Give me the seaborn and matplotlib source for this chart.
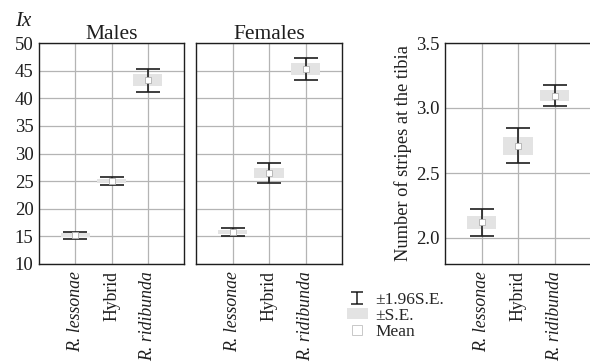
import numpy as np
import pandas as pd
import matplotlib
matplotlib.use("Agg")
import matplotlib.pyplot as plt
from matplotlib.lines import Line2D
from matplotlib.patches import Patch
from matplotlib.path import Path
import seaborn as sns

# ── Data ──────────────────────────────────────────────────
species = ["R. lessonae", "Hybrid", "R. ridibunda"]

males_mean = [15.2, 25.05, 43.25]
males_ci = [0.65, 0.75, 2.1]          # 1.96 * S.E.

females_mean = [15.8, 26.45, 45.3]
females_ci = [0.7, 1.75, 2.05]

tibia_mean = [2.12, 2.71, 3.095]
tibia_ci = [0.103, 0.135, 0.083]

# ── Style ─────────────────────────────────────────────────
sns.set_theme(style="whitegrid")
plt.rcParams["font.family"] = ["Liberation Serif", "DejaVu Serif"]

GRID = "#b4b4b4"
BOX = "#e3e3e3"
INK = "#1e1e1e"
TICK_FS = 13.5
XTICK_FS = 12.8

fig = plt.figure(figsize=(5.9, 3.64), dpi=100, facecolor="white")
bottom, height = 1 - 264 / 364, 221 / 364
axes = [
    fig.add_axes([39 / 590, bottom, 145 / 590, height]),
    fig.add_axes([196 / 590, bottom, 146 / 590, height]),
    fig.add_axes([445 / 590, bottom, 146 / 590, height]),
]


def draw_panel(ax, means, ci, ylim, yticks):
    df = pd.DataFrame({"species": species, "mean": means, "ci": ci})
    df["se"] = df["ci"] / 1.96
    pos = np.arange(len(df))
    ax.bar(pos, 2 * df["se"], bottom=df["mean"] - df["se"], width=0.8,
           color=BOX, linewidth=0, zorder=2)
    ax.errorbar(pos, df["mean"], yerr=df["ci"], fmt="none", ecolor=INK,
                elinewidth=1.2, capsize=8.3, capthick=1.2, zorder=3)
    sns.stripplot(data=df, x="species", y="mean", jitter=False, marker="s",
                  color="white", edgecolor="#b0b0b0", linewidth=0.6, size=4.2,
                  ax=ax, zorder=4)
    ax.set_xlim(-1, 3)
    ax.set_ylim(*ylim)
    ax.set_yticks(yticks)
    ax.set_xlabel("")
    ax.set_ylabel("")
    ax.set_axisbelow(True)
    ax.grid(True, color=GRID, linewidth=0.9)
    ax.tick_params(length=0, labelsize=TICK_FS, colors=INK)
    ax.tick_params(axis="x", pad=5)
    ax.tick_params(axis="y", pad=4)
    for s in ax.spines.values():
        s.set_color(INK)
        s.set_linewidth(1.0)
    ax.set_xticks(pos)
    ax.set_xticklabels(species, rotation=90, fontsize=XTICK_FS)
    for lab in ax.get_xticklabels():
        if lab.get_text().startswith("R."):
            lab.set_style("italic")


draw_panel(axes[0], males_mean, males_ci, (10, 50), range(10, 51, 5))
axes[0].set_title("Males", fontsize=15.5, pad=3, color=INK)

draw_panel(axes[1], females_mean, females_ci, (10, 50), range(10, 51, 5))
axes[1].set_yticklabels([])
axes[1].set_title("Females", fontsize=15.5, pad=3, color=INK)

draw_panel(axes[2], tibia_mean, tibia_ci, (1.8, 3.5), [2.0, 2.5, 3.0, 3.5])
axes[2].set_yticklabels(["2.0", "2.5", "3.0", "3.5"])
axes[2].set_ylabel("Number of stripes at the tibia", fontsize=13.2, color=INK,
                   labelpad=3)

fig.text(15 / 590, 1 - 22 / 364, "Ix", fontsize=15, style="italic",
         color=INK, va="center")

# legend: I-beam for 1.96 S.E., grey box for S.E., white square for mean
ibeam = Path([(-0.5, 0.5), (0.5, 0.5), (0, 0.5), (0, -0.5), (-0.5, -0.5), (0.5, -0.5)],
             [Path.MOVETO, Path.LINETO, Path.MOVETO, Path.LINETO, Path.MOVETO, Path.LINETO])
handles = [
    Line2D([], [], marker=ibeam, markersize=9, markeredgewidth=1.1,
           markeredgecolor=INK, markerfacecolor="none", linestyle="none"),
    Patch(facecolor=BOX, edgecolor="none"),
    Line2D([], [], marker="s", markersize=7, markerfacecolor="white",
           markeredgecolor="#c8c8c8", markeredgewidth=0.7, linestyle="none"),
]
fig.legend(handles, ["±1.96S.E.", "±S.E.", "Mean"],
           loc="upper left", bbox_to_anchor=(347 / 590, 1 - 292 / 364),
           frameon=False, fontsize=12.5, handlelength=1.2, handleheight=0.6,
           handletextpad=0.45, labelspacing=0.0, borderaxespad=0, borderpad=0)

fig.savefig("out.png", dpi=100, facecolor="white")
